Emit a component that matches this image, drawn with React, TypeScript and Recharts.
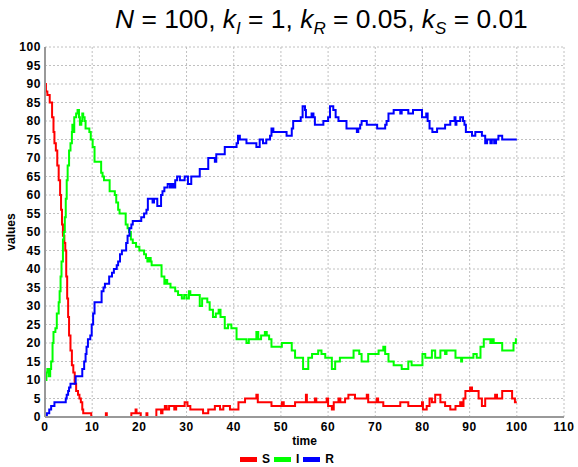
import React from 'react';
import { LineChart, Line, XAxis, YAxis, CartesianGrid, Legend } from 'recharts';

// [time, count] step points
const sSteps: [number, number][] = [
  [0, 90], [0.2, 88], [0.5, 87], [1.0, 85], [1.5, 81], [1.8, 77], [2.0, 74], [2.3, 72], [2.6, 68],
  [2.9, 64], [3.2, 60], [3.4, 56], [3.6, 52], [3.8, 49], [4.1, 47], [4.3, 45], [4.5, 38], [4.7, 32],
  [4.9, 27], [5.1, 22], [5.4, 18], [5.7, 14], [6.0, 12], [6.3, 9], [6.6, 7], [7.0, 6], [7.3, 5],
  [7.6, 4], [7.9, 2], [8.1, 1], [9.8, 0], [12.9, 1], [13.1, 0], [18.3, 1], [19.2, 2], [19.4, 1],
  [20.3, 0], [21.5, 1], [21.7, 0], [23.6, 2], [24.6, 1], [24.9, 2], [25.4, 3], [25.8, 2], [26.3, 3],
  [27.4, 2], [27.8, 3], [29.6, 4], [30.2, 3], [30.8, 2], [33.5, 1], [34.6, 2], [36.0, 3], [37.1, 2],
  [37.8, 3], [39.2, 2], [41.0, 4], [42.4, 5], [44.8, 6], [45.1, 4], [48.0, 3], [50.2, 4], [50.6, 3],
  [53.0, 4], [55.3, 6], [55.5, 4], [57.2, 5], [57.5, 4], [59.7, 5], [60.0, 3], [60.8, 2], [61.2, 4],
  [62.2, 5], [62.6, 4], [63.6, 5], [64.3, 6], [65.7, 5], [68.2, 6], [68.5, 4], [70.3, 5], [70.6, 4],
  [71.7, 3], [75.3, 4], [77.0, 3], [79.9, 4], [80.1, 2], [80.9, 3], [81.5, 5], [82.0, 4], [82.7, 6],
  [83.8, 4], [84.8, 3], [85.9, 2], [87.0, 3], [88.0, 4], [88.4, 3], [88.7, 5], [89.1, 7], [90.1, 8],
  [90.5, 7], [91.9, 5], [92.6, 3], [93.3, 5], [95.4, 6], [95.8, 5], [96.9, 7], [99.0, 5], [99.6, 4],
  [100, 4],
];

const iSteps: [number, number][] = [
  [0, 10], [0.3, 12], [0.5, 13], [0.8, 11], [1.1, 13], [1.3, 15], [1.6, 20], [1.8, 23], [2.2, 24],
  [2.5, 28], [2.9, 31], [3.1, 34], [3.3, 38], [3.5, 42], [3.8, 48], [4.0, 50], [4.2, 54], [4.4, 59],
  [4.6, 64], [4.8, 68], [5.1, 72], [5.4, 74], [5.7, 77], [5.8, 79], [6.0, 77], [6.2, 81], [6.6, 82],
  [6.9, 83], [7.2, 81], [7.4, 79], [7.7, 80], [7.9, 82], [8.1, 81], [8.4, 80], [8.6, 78], [9.4, 77],
  [9.7, 75], [10.1, 73], [10.5, 69], [11.9, 66], [12.2, 65], [12.5, 64], [13.7, 61], [14.8, 60],
  [15.1, 58], [15.5, 56], [15.8, 55], [17.1, 52], [17.5, 51], [17.8, 50], [18.2, 48], [18.6, 47],
  [19.3, 46], [20.0, 45], [21.0, 44], [21.4, 43], [21.7, 42], [22.0, 43], [22.4, 42], [22.6, 41],
  [24.7, 38], [25.3, 36], [25.6, 37], [25.9, 36], [26.6, 35], [27.6, 34], [28.2, 33], [29.0, 32],
  [29.5, 33], [30.0, 32], [30.5, 34], [30.8, 33], [32.8, 30], [33.3, 32], [34.4, 31], [34.9, 29],
  [35.6, 27], [36.2, 28], [36.8, 29], [37.2, 27], [38.1, 24], [38.8, 25], [39.5, 24], [40.6, 21],
  [42.7, 20], [43.2, 21], [44.8, 23], [45.2, 21], [45.8, 22], [46.6, 23], [47.0, 22], [47.5, 21],
  [48.0, 19], [50.2, 20], [52.3, 18], [53.0, 16], [54.7, 13], [55.8, 16], [56.6, 17], [57.9, 18],
  [58.6, 17], [59.4, 16], [60.8, 13], [61.5, 15], [62.5, 16], [65.4, 18], [66.6, 17], [67.1, 15],
  [68.5, 17], [70.7, 18], [71.7, 19], [72.1, 17], [72.8, 15], [73.9, 14], [75.6, 13], [77.0, 15],
  [77.7, 14], [80.0, 17], [80.6, 16], [82.0, 18], [82.7, 16], [83.8, 18], [84.8, 17], [85.1, 18],
  [87.0, 16], [88.2, 15], [88.4, 16], [90.8, 17], [91.5, 16], [92.3, 19], [93.0, 21], [94.4, 20],
  [94.7, 21], [95.1, 20], [96.9, 18], [99.3, 20], [99.8, 21], [100, 21],
];

const rSteps: [number, number][] = [
  [0, 0], [0.4, 1], [0.9, 2], [1.3, 3], [2.0, 4], [4.4, 5], [4.6, 6], [4.9, 7], [5.1, 8], [5.4, 9],
  [6.5, 11], [7.9, 13], [8.3, 15], [8.6, 17], [8.8, 19], [9.1, 21], [9.6, 22], [9.9, 25], [10.2, 28],
  [10.5, 31], [12.0, 34], [12.4, 35], [12.7, 36], [13.6, 38], [14.2, 39], [14.6, 40], [15.2, 41],
  [15.5, 42], [15.9, 44], [16.3, 45], [17.2, 47], [17.5, 49], [17.9, 51], [18.3, 52], [18.6, 53],
  [20.4, 54], [21.0, 55], [21.5, 56], [21.8, 59], [22.8, 58], [23.1, 59], [23.8, 57], [24.6, 60],
  [24.9, 61], [25.3, 62], [26.0, 63], [26.5, 62], [26.8, 63], [27.2, 62], [27.6, 64], [28.0, 65],
  [28.6, 64], [29.6, 65], [30.3, 63], [31.0, 65], [32.8, 67], [34.6, 70], [36.0, 69], [36.3, 71],
  [38.1, 73], [40.6, 74], [40.9, 76], [41.3, 75], [42.7, 74], [44.8, 73], [45.5, 75], [46.2, 74],
  [46.9, 75], [47.7, 76], [48.0, 78], [48.4, 77], [51.2, 76], [52.3, 78], [52.6, 80], [54.2, 81],
  [54.6, 84], [55.1, 83], [55.3, 81], [56.5, 82], [56.9, 81], [57.2, 79], [59.0, 80], [60.0, 81],
  [60.4, 84], [61.1, 83], [61.6, 81], [62.2, 80], [63.9, 78], [66.1, 77], [66.4, 78], [66.8, 79],
  [67.1, 80], [68.2, 79], [70.4, 78], [72.1, 79], [72.4, 80], [72.8, 82], [73.9, 83], [75.3, 82],
  [75.6, 83], [77.0, 82], [78.0, 83], [79.9, 81], [80.8, 82], [81.1, 80], [81.5, 78], [82.1, 77],
  [83.1, 78], [84.8, 79], [85.9, 80], [86.8, 81], [87.0, 79], [87.2, 80], [88.0, 81], [88.6, 80],
  [88.9, 79], [89.2, 77], [90.5, 76], [91.2, 77], [92.6, 76], [93.3, 74], [93.7, 75], [94.4, 74],
  [94.7, 75], [95.2, 74], [95.6, 75], [96.1, 76], [96.9, 75], [100, 75],
];

const xTicks = [0, 10, 20, 30, 40, 50, 60, 70, 80, 90, 100, 110];
const yTicks = [0, 5, 10, 15, 20, 25, 30, 35, 40, 45, 50, 55, 60, 65, 70, 75, 80, 85, 90, 95, 100];

const series = [
  { name: 'S', color: '#ff0000', steps: sSteps },
  { name: 'I', color: '#00ff00', steps: iSteps },
  { name: 'R', color: '#0000ff', steps: rSteps },
];

const font = '"Liberation Sans", Arial, sans-serif';
const tickStyle = { fill: '#000', fontSize: 12, fontWeight: 700, fontFamily: font, letterSpacing: 0.6 };

const toPoints = (steps: [number, number][]) => steps.map(([time, value]) => ({ time, value }));

function LegendContent() {
  return (
    <div style={{ display: 'flex', alignItems: 'center', fontFamily: font, fontWeight: 700, fontSize: 12 }}>
      {series.map((s) => (
        <div key={s.name} style={{ display: 'flex', alignItems: 'center', marginRight: 4 }}>
          <span style={{ display: 'inline-block', width: 17, height: 5, background: s.color, marginRight: 5 }} />
          <span>{s.name}</span>
        </div>
      ))}
    </div>
  );
}

const sub = { fontSize: 17, position: 'relative' as const, top: 6 };

export default function App() {
  return (
    <div style={{ position: 'absolute', left: 0, top: 0, width: 578, height: 467, background: '#fff' }}>
      <div
        style={{
          position: 'absolute',
          left: 115,
          top: 6,
          fontFamily: font,
          fontSize: 26.4,
          lineHeight: '26px',
          whiteSpace: 'nowrap',
        }}
      >
        <i>N</i> = 100, <i>k</i><span style={sub}><i>I</i></span> = 1, <i>k</i>
        <span style={sub}><i>R</i></span> = 0.05, <i>k</i><span style={sub}><i>S</i></span> = 0.01
      </div>
      <LineChart width={578} height={467} margin={{ top: 47, right: 14, left: 0, bottom: 0 }}>
        <CartesianGrid stroke="#c0c0c0" strokeDasharray="2 2" />
        <XAxis
          dataKey="time"
          type="number"
          domain={[0, 110]}
          ticks={xTicks}
          interval={0}
          allowDuplicatedCategory={false}
          tick={tickStyle}
          tickSize={0}
          tickMargin={5}
          height={50}
          axisLine={{ stroke: '#999', strokeWidth: 2 }}
          label={{ value: 'time', position: 'insideTop', offset: 19, style: { fontFamily: font, fontWeight: 700, fontSize: 12, fill: '#000' } }}
        />
        <XAxis xAxisId="top" orientation="top" type="number" domain={[0, 110]} height={0} tick={false} tickLine={false} axisLine={{ stroke: '#c8c8c8', strokeWidth: 2 }} />
        <YAxis
          type="number"
          domain={[0, 100]}
          ticks={yTicks}
          interval={0}
          tick={tickStyle}
          tickSize={0}
          tickMargin={4}
          width={45}
          axisLine={{ stroke: '#999', strokeWidth: 2 }}
          label={{ value: 'values', angle: -90, position: 'insideLeft', offset: 11, style: { textAnchor: 'middle', fontFamily: font, fontWeight: 700, fontSize: 12, fill: '#000' } }}
        />
        <YAxis yAxisId="right" orientation="right" type="number" domain={[0, 100]} width={0} tick={false} tickLine={false} axisLine={{ stroke: '#c8c8c8', strokeWidth: 2 }} />
        <Legend
          layout="horizontal"
          verticalAlign="middle"
          align="center"
          content={<LegendContent />}
          wrapperStyle={{ position: 'absolute', left: 240, top: 452, width: 120, height: 16 }}
        />
        {series.map((s) => (
          <Line
            key={s.name}
            data={toPoints(s.steps)}
            dataKey="value"
            name={s.name}
            type="stepAfter"
            stroke={s.color}
            strokeWidth={2}
            dot={false}
            isAnimationActive={false}
          />
        ))}
      </LineChart>
    </div>
  );
}
